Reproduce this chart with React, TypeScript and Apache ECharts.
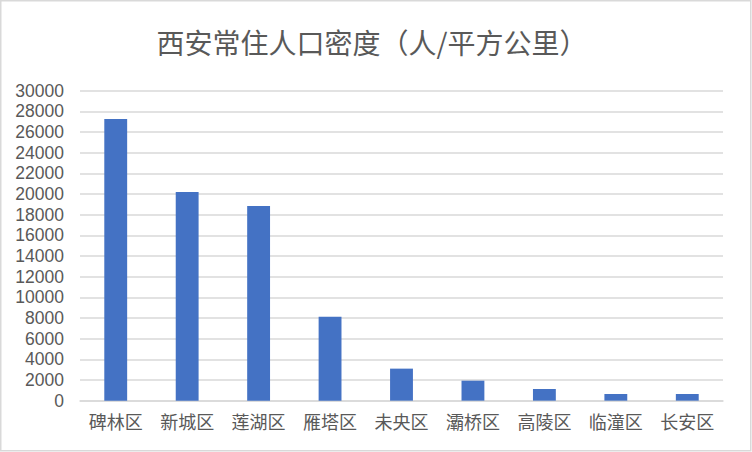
import React, { useEffect, useRef } from "react";
import * as echarts from "echarts";

const categories = ["碑林区", "新城区", "莲湖区", "雁塔区", "未央区", "灞桥区", "高陵区", "临潼区", "长安区"];
const density = [27250, 20200, 18850, 8130, 3100, 1935, 1130, 645, 645];
const titleText = "西安常住人口密度（人/平方公里）";

const FONT = "'Noto Sans CJK SC', 'Noto Sans', sans-serif";
const NUM_FONT = "'Liberation Sans', Arial, sans-serif";
const GRAY = "#595959";
const GRID = "#d9d9d9";

export default function App() {
  const ref = useRef<HTMLDivElement>(null);
  useEffect(() => {
    if (!ref.current) return;
    const chart = echarts.init(ref.current, undefined, { renderer: "svg" });
    chart.setOption({
      animation: false,
      backgroundColor: "#ffffff",
      textStyle: { fontFamily: FONT },
      title: {
        text: titleText,
        left: 367,
        top: 23,
        textAlign: "center",
        textStyle: { color: GRAY, fontSize: 28, fontWeight: "normal", fontFamily: FONT },
      },
      graphic: [
        {
          type: "rect",
          shape: { x: 0.75, y: 0.75, width: 750, height: 450 },
          style: { fill: "none", stroke: GRID, lineWidth: 1.5 },
          silent: true,
        },
      ],
      grid: { left: 80, right: 29, top: 90.67, bottom: 51.33, containLabel: false },
      xAxis: {
        type: "category",
        data: categories,
        axisLine: { show: true, lineStyle: { color: GRID, width: 1.5 } },
        axisTick: { show: false },
        axisLabel: { color: GRAY, fontSize: 18, lineHeight: 18, margin: 11, fontFamily: FONT },
      },
      yAxis: {
        type: "value",
        min: 0,
        max: 30000,
        interval: 2000,
        axisLine: { show: false },
        axisTick: { show: false },
        axisLabel: {
          color: GRAY,
          fontSize: 17.5,
          lineHeight: 17,
          margin: 16,
          fontFamily: NUM_FONT,
          formatter: (v: number) => String(v),
        },
        splitLine: { show: true, lineStyle: { color: GRID, width: 1.5 } },
      },
      series: [
        {
          type: "bar",
          data: density,
          barWidth: "32%",
          itemStyle: { color: "#4472C4" },
        },
      ],
    });
    return () => chart.dispose();
  }, []);
  return (
    <div
      ref={ref}
      style={{ position: "fixed", left: 0, top: 0, width: 752, height: 452 }}
    />
  );
}
